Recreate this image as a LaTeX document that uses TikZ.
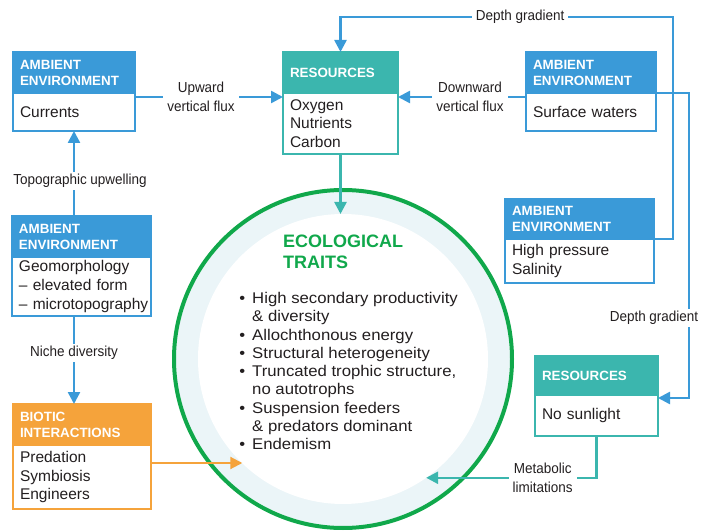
\documentclass[tikz,border=0pt]{standalone}
\usepackage{fontspec}
\setmainfont{Liberation Sans}
\newfontfamily\lblfam[FakeStretch=0.93]{Liberation Sans}
\newfontfamily\listfam[FakeStretch=1.08]{Liberation Sans}
\usetikzlibrary{arrows.meta}

\definecolor{ambblue}{HTML}{3A9AD8}
\definecolor{resteal}{HTML}{3BB6AE}
\definecolor{bioorange}{HTML}{F5A33B}
\definecolor{ecogreen}{HTML}{10A84B}
\definecolor{ringband}{HTML}{EBF5F8}
\definecolor{inktext}{HTML}{231F20}

\newcommand{\hdrfont}{\fontsize{13.4pt}{16pt}\selectfont\bfseries}
\newcommand{\bodyfont}{\fontsize{15.5pt}{18.7pt}\selectfont\hyphenpenalty=10000 \exhyphenpenalty=10000 }
\newcommand{\lblfont}{\lblfam\fontsize{14.5pt}{19pt}\selectfont}
\newcommand{\titlefont}{\fontsize{18pt}{21pt}\selectfont\bfseries}
\newcommand{\listfont}{\listfam\fontsize{15.5pt}{18.3pt}\selectfont}
\newcommand{\bul}{\leavevmode\llap{\textbullet\hspace{7pt}}}

\tikzset{
  hdr/.style={fill=#1, draw=#1, line width=2.5pt, text=white, font=\hdrfont,
    inner xsep=7pt, inner ysep=0pt, outer sep=0pt, align=left, anchor=north west},
  bodybox/.style={fill=white, draw=#1, line width=2.5pt, text=inktext, font=\bodyfont,
    inner xsep=7pt, inner ysep=0pt, outer sep=0pt, align=left, anchor=north},
  lbl/.style={fill=white, text=inktext, font=\lblfont, align=center,
    inner xsep=4pt, inner ysep=2pt},
  link/.style={draw=#1, line width=2.5pt, -{Triangle[length=12pt,width=12pt]}},
}

% #1 name, #2 colour, #3 x, #4 y, #5 width, #6 header height, #7 body height,
% #8 header text, #9 body text
\newcommand{\infobox}[9]{%
  \pgfmathsetlengthmacro{\boxtw}{#5pt-14pt}%
  \node[hdr=#2, text width=\boxtw, minimum height=#6pt] (#1-h) at (#3,#4) {#8};
  \node[bodybox=#2, text width=\boxtw, minimum height=#7pt] (#1-b) at (#1-h.south) {#9};
}

\begin{document}
\begin{tikzpicture}[x=1pt, y=-1pt]
\useasboundingbox (0,0) rectangle (710,532);

% ecological traits ring
\fill[ringband] (343,359) circle[radius=167];
\node[circle, fill=white, minimum size=290pt, inner sep=0pt, outer sep=0pt] (inner) at (343,359) {};
\draw[ecogreen, line width=4pt] (inner.center) circle[radius=169];

% boxes
\infobox{cur}{ambblue}{13}{52}{122}{41}{38}{AMBIENT\\ENVIRONMENT}{Currents}
\infobox{res}{resteal}{283}{52}{115}{41}{61}{RESOURCES}{Oxygen\\Nutrients\\Carbon}
\infobox{surf}{ambblue}{526}{52}{130}{41}{38}{AMBIENT\\ENVIRONMENT}{Surface waters}
\infobox{hp}{ambblue}{505}{199}{149}{40}{44}{AMBIENT\\ENVIRONMENT}{High pressure\\Salinity}
\infobox{geo}{ambblue}{12}{216}{139}{41}{59}{AMBIENT\\ENVIRONMENT}{Geomorphology\\\mbox{-- elevated form}\\\mbox{-- microtopography}}
\infobox{bio}{bioorange}{13}{404}{138}{41}{64}{BIOTIC\\INTERACTIONS}{Predation\\Symbiosis\\Engineers}
\infobox{sun}{resteal}{535}{356}{123}{39}{41}{RESOURCES}{No sunlight}

% connectors
\draw[link=ambblue] ([yshift=-4pt]cur-b.north east) --
  node[lbl, pos=0.446] {Upward\\vertical flux} ([yshift=-4pt]res-b.north west);
\draw[link=ambblue] ([yshift=-4pt]surf-b.north west) --
  node[lbl, pos=0.4375] {Downward\\vertical flux} ([yshift=-4pt]res-b.north east);
\draw[link=ambblue] (cur-b.south |- geo-h.north) --
  node[lbl, pos=0.41, xshift=6pt] {Topographic upwelling} (cur-b.south);
\draw[link=ambblue] (cur-b.south |- geo-b.south) --
  node[lbl, pos=0.42] {Niche diversity} (cur-b.south |- bio-h.north);

\coordinate (topc) at (673,17);
\draw[link=ambblue] (hp-h.south east) -| (topc) -|
  node[lbl, pos=0.23] {Depth gradient} (res-h.north);

\coordinate (rightc) at (689,200);
\draw[link=ambblue] (surf-h.south east) -| (rightc) |- ([yshift=-3pt]sun-h.south east);
\node[lbl] (dglbl) at (654,318) {Depth gradient};

\draw[link=resteal] (res-b.south) -- (res-b.south |- inner.north);
\draw[link=bioorange, line width=2pt] ([yshift=14pt]bio-b.east) -- ([yshift=14pt]bio-b.east -| inner.226);
\draw[link=resteal] (sun-b.south) |-
  node[lbl, pos=0.658] {Metabolic\\limitations} (inner.305.5);

% ring text
\node[anchor=north west, inner sep=0pt, align=left, text=ecogreen, font=\titlefont]
  (ecotitle) at (283,235) {ECOLOGICAL\\TRAITS};
\node[anchor=north west, inner sep=0pt, align=left, text=inktext, font=\listfont]
  (ecolist) at (252,292) {\bul High secondary productivity\\
\& diversity\\
\bul Allochthonous energy\\
\bul Structural heterogeneity\\
\bul Truncated trophic structure,\\
no autotrophs\\
\bul Suspension feeders\\
\& predators dominant\\
\bul Endemism};
\end{tikzpicture}
\end{document}
